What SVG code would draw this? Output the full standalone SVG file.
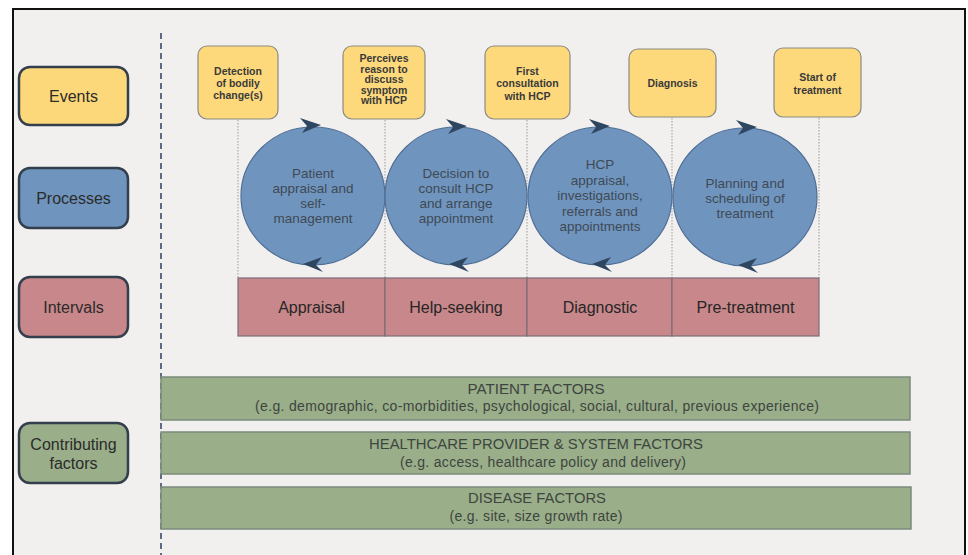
<svg xmlns="http://www.w3.org/2000/svg" width="968" height="555" viewBox="0 0 968 555">
<style>
text{font-family:"Liberation Sans",Arial,sans-serif;text-anchor:middle;dominant-baseline:central}
.lab{fill:#2b2b2b;font-size:16px}
.lbox{stroke:#333f4c;stroke-width:2.5}
.ev{fill:#fdd97c;stroke:#8a8a80;stroke-width:1.2}
.evt{fill:#3a3a3a;font-size:10.5px;font-weight:bold}
.proc{fill:#6f95bf;stroke:#4f6e96;stroke-width:1.2}
.pt{fill:#3f4954;font-size:13.5px}
.arr{fill:#2f4661}
.int{fill:#c8878a;stroke:#7d6d78;stroke-width:1.2}
.it{fill:#262626;font-size:16px}
.fac{fill:#9aae89;stroke:#7c8a7c;stroke-width:1.5}
.ft{fill:#3d4540;font-size:14px}
.dot{stroke:#9a9a9a;stroke-width:1;stroke-dasharray:1.5,1.5;fill:none}
</style>
<rect x="0" y="0" width="968" height="555" fill="#ffffff"/>
<rect id="frame" x="13" y="9" width="952" height="560" fill="#f2f0ee" stroke="#111" stroke-width="2"/>
<line id="divider" x1="161" y1="33" x2="161" y2="555" stroke="#3a4a6a" stroke-width="1.6" stroke-dasharray="6,4"/>

<g id="legend-events"><rect class="lbox" x="19" y="67" width="109" height="58" rx="11" fill="#fdd87a"/><text class="lab" x="73.5" y="96">Events</text></g>
<g id="legend-processes"><rect class="lbox" x="19" y="168" width="109" height="60" rx="11" fill="#6f95bf"/><text class="lab" x="73.5" y="198">Processes</text></g>
<g id="legend-intervals"><rect class="lbox" x="19" y="277" width="109" height="60" rx="11" fill="#c8878a"/><text class="lab" x="73.5" y="307">Intervals</text></g>
<g id="legend-factors"><rect class="lbox" x="19" y="423" width="109" height="60" rx="11" fill="#9aae89"/><text class="lab" x="73.5" y="444">Contributing</text><text class="lab" x="73.5" y="463">factors</text></g>

<g id="connectors">
<line class="dot" x1="238" y1="120" x2="238" y2="278"/>
<line class="dot" x1="385" y1="120" x2="385" y2="278"/>
<line class="dot" x1="527" y1="120" x2="527" y2="278"/>
<line class="dot" x1="672" y1="118" x2="672" y2="278"/>
<line class="dot" x1="819" y1="118" x2="819" y2="278"/>
</g>

<g id="event-detection"><rect class="ev" x="198" y="46" width="80" height="73" rx="9"/>
<text class="evt" x="238" y="71">Detection</text><text class="evt" x="238" y="83">of bodily</text><text class="evt" x="238" y="95">change(s)</text></g>
<g id="event-perceives"><rect class="ev" x="343" y="46" width="82" height="73" rx="9"/>
<text class="evt" x="384" y="58">Perceives</text><text class="evt" x="384" y="68.5">reason to</text><text class="evt" x="384" y="79">discuss</text><text class="evt" x="384" y="89.5">symptom</text><text class="evt" x="384" y="100">with HCP</text></g>
<g id="event-first"><rect class="ev" x="485" y="46" width="85" height="73" rx="9"/>
<text class="evt" x="527.5" y="71">First</text><text class="evt" x="527.5" y="83">consultation</text><text class="evt" x="527.5" y="95.5">with HCP</text></g>
<g id="event-diagnosis"><rect class="ev" x="629" y="49" width="87" height="68" rx="9"/>
<text class="evt" x="672.5" y="83">Diagnosis</text></g>
<g id="event-start"><rect class="ev" x="774" y="48" width="87" height="69" rx="9"/>
<text class="evt" x="817.5" y="77">Start of</text><text class="evt" x="817.5" y="90">treatment</text></g>

<g id="process-patient"><ellipse class="proc" cx="313" cy="196" rx="72" ry="69"/>
<path class="arr" d="M321,125 L300,118 L307,126 L302,133 Z"/>
<path class="arr" d="M303,264 L322,257 L316,265 L323,272 Z"/>
<text class="pt" x="313" y="173">Patient</text><text class="pt" x="313" y="188">appraisal and</text><text class="pt" x="313" y="203">self-</text><text class="pt" x="313" y="218">management</text></g>
<g id="process-decision"><ellipse class="proc" cx="456" cy="196" rx="71" ry="69"/>
<path class="arr" d="M467,126 L446,119 L453,127 L448,134 Z"/>
<path class="arr" d="M449,264 L468,257 L462,265 L469,272 Z"/>
<text class="pt" x="456" y="173">Decision to</text><text class="pt" x="456" y="188">consult HCP</text><text class="pt" x="456" y="203">and arrange</text><text class="pt" x="456" y="218">appointment</text></g>
<g id="process-hcp"><ellipse class="proc" cx="600" cy="196" rx="72" ry="69"/>
<path class="arr" d="M610,126 L589,119 L596,127 L591,134 Z"/>
<path class="arr" d="M592,264 L611,257 L605,265 L612,272 Z"/>
<text class="pt" x="600" y="164">HCP</text><text class="pt" x="600" y="180">appraisal,</text><text class="pt" x="600" y="195.5">investigations,</text><text class="pt" x="600" y="211">referrals and</text><text class="pt" x="600" y="226.5">appointments</text></g>
<g id="process-planning"><ellipse class="proc" cx="745" cy="197" rx="72" ry="69"/>
<path class="arr" d="M757,127 L736,120 L743,128 L738,135 Z"/>
<path class="arr" d="M738,265 L757,258 L751,266 L758,273 Z"/>
<text class="pt" x="745" y="183">Planning and</text><text class="pt" x="745" y="198">scheduling of</text><text class="pt" x="745" y="213">treatment</text></g>

<g id="intervals">
<rect class="int" x="238" y="278" width="147" height="58"/><text class="it" x="311.5" y="307">Appraisal</text>
<rect class="int" x="385" y="278" width="142" height="58"/><text class="it" x="456" y="307">Help-seeking</text>
<rect class="int" x="527" y="278" width="145" height="58"/><text class="it" x="600" y="307">Diagnostic</text>
<rect class="int" x="672" y="278" width="147" height="58"/><text class="it" x="745.5" y="307">Pre-treatment</text>
</g>

<g id="factor-patient"><rect class="fac" x="161" y="377" width="749" height="43"/>
<text class="ft" x="536" y="389" textLength="137" lengthAdjust="spacingAndGlyphs">PATIENT FACTORS</text>
<text class="ft" x="537" y="406" textLength="564" lengthAdjust="spacing">(e.g. demographic, co-morbidities, psychological, social, cultural, previous experience)</text></g>
<g id="factor-healthcare"><rect class="fac" x="161" y="432" width="749" height="42"/>
<text class="ft" x="536" y="444" textLength="334" lengthAdjust="spacingAndGlyphs">HEALTHCARE PROVIDER &amp; SYSTEM FACTORS</text>
<text class="ft" x="543" y="462" textLength="286" lengthAdjust="spacing">(e.g. access, healthcare policy and delivery)</text></g>
<g id="factor-disease"><rect class="fac" x="161" y="487" width="750" height="42"/>
<text class="ft" x="537" y="498" textLength="138" lengthAdjust="spacingAndGlyphs">DISEASE FACTORS</text>
<text class="ft" x="536" y="516" textLength="173" lengthAdjust="spacing">(e.g. site, size growth rate)</text></g>
</svg>
